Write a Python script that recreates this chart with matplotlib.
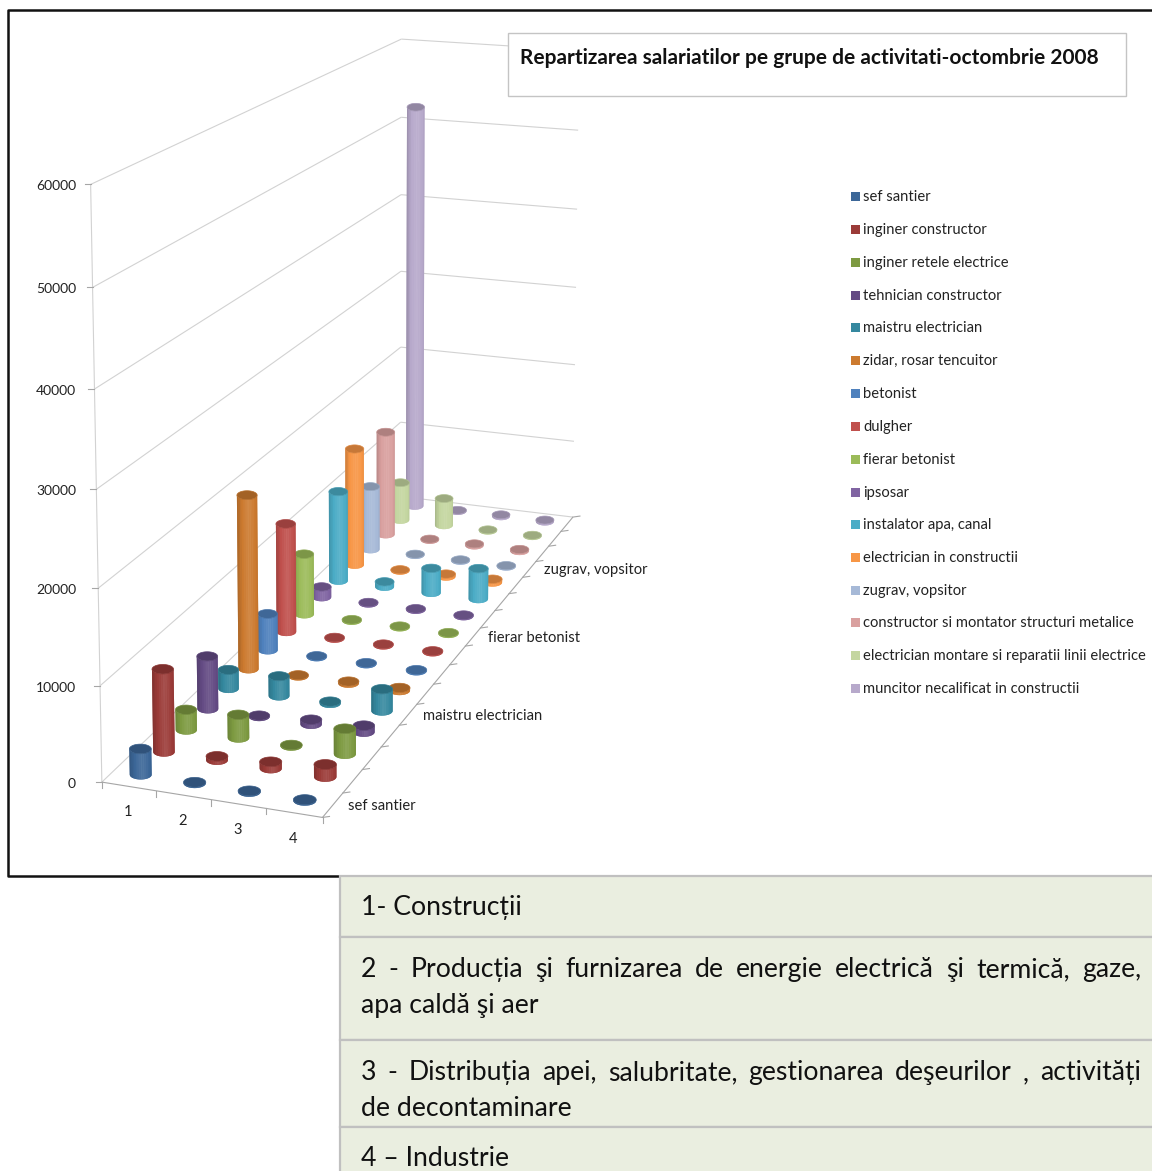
import numpy as np
import matplotlib
matplotlib.use('Agg')
import matplotlib.pyplot as plt
from matplotlib.colors import to_rgb

plt.rcParams['font.family'] = ['Lato', 'DejaVu Sans']

series_names = ['sef santier', 'inginer constructor', 'inginer retele electrice',
                'tehnician constructor', 'maistru electrician', 'zidar, rosar tencuitor',
                'betonist', 'dulgher', 'fierar betonist', 'ipsosar', 'instalator apa, canal',
                'electrician in constructii', 'zugrav, vopsitor',
                'constructor si montator structuri metalice',
                'electrician montare si reparatii linii electrice',
                'muncitor necalificat in constructii']
series_colors = ['#3C6798', '#9B3B38', '#7D9A41', '#644B84', '#35889F', '#CC7A2F',
                 '#4F81BD', '#C0504D', '#9BBB59', '#8064A2', '#4BACC6', '#F79646',
                 '#A6B9D7', '#D9A09F', '#C4D6A0', '#B7A9CB']
categories = ['1', '2', '3', '4']
values_cat1 = [2700, 8800, 2200, 5800, 2100, 19700, 4200, 12700, 7200, 1250, 11000, 14500,
               8000, 13200, 4900, 52000]
values_cat2 = [100, 400, 2500, 100, 2200, 100, 100, 100, 100, 100, 600, 100,
               100, 100, 3500, 100]
values_cat3 = [100, 700, 100, 500, 200, 200, 100, 100, 100, 100, 3000, 300,
               100, 200, 100, 200]
values_cat4 = [100, 1300, 2700, 700, 2400, 300, 100, 100, 100, 100, 3700, 400,
               100, 200, 100, 200]
values = [values_cat1, values_cat2, values_cat3, values_cat4]
value_ticks = [0, 10000, 20000, 30000, 40000, 50000, 60000]
series_ticks = [0, 4, 8, 12]

title = 'Repartizarea salariatilor pe grupe de activitati-octombrie 2008'
table_rows = [
    [('1- Construcții', False)],
    [('2 - Producția şi furnizarea de energie electrică şi termică, gaze,', True), ('apa caldă şi aer', False)],
    [('3 - Distribuția apei, salubritate, gestionarea deşeurilor , activități', True), ('de decontaminare', False)],
    [('4 – Industrie', False)],
]

# camera: (category, value/10000, series) -> pixel, fitted on the corners of the box
world_pts = [(0, 0, 0), (4, 0, 0), (4, 0, 16), (0, 0, 16), (0, 6, 0), (0, 6, 16), (4, 6, 16)]
pixel_pts = [(101, 781), (324, 818), (573, 517), (400, 497), (90, 185), (403, 39), (578, 50)]

rows, rhs = [], []
for (X, Y, Z), (u, v) in zip(world_pts, pixel_pts):
    rows.append([X, Y, Z, 1, 0, 0, 0, 0, -u * X, -u * Y, -u * Z])
    rows.append([0, 0, 0, 0, X, Y, Z, 1, -v * X, -v * Y, -v * Z])
    rhs += [u, v]
cam = np.linalg.lstsq(np.array(rows, float), np.array(rhs, float), rcond=None)[0]
cam = np.append(cam, 1).reshape(3, 4)


def proj(x, val, z):
    x, val, z = np.broadcast_arrays(x, val / 10000, z)
    p = cam @ np.stack([x, val, z, np.ones_like(x, dtype=float)])
    return p[0] / p[2], p[1] / p[2]


fig = plt.figure(figsize=(11.52, 11.71), dpi=100)
ax = fig.add_axes([0, 0, 1, 1])
ax.set_xlim(0, 1152)
ax.set_ylim(1171, 0)
ax.axis('off')

GRID = '#d2d2d2'
AXIS = '#a6a6a6'
TXT = '#222222'


def seg(a, b, color=GRID, lw=0.8, z=2):
    xa, ya = proj(*a)
    xb, yb = proj(*b)
    ax.plot([xa, xb], [ya, yb], color=color, lw=lw, zorder=z, solid_capstyle='butt')


# walls and floor
for v in value_ticks:
    seg((0, v, 0), (0, v, 16))
    seg((0, v, 16), (4, v, 16))
seg((0, 0, 0), (0, 60000, 0))
seg((0, 0, 0), (4, 0, 0), AXIS)
seg((4, 0, 0), (4, 0, 16), AXIS)

# value axis
for v in value_ticks:
    xa, ya = proj(0, v, 0)
    ax.plot([xa - 6, xa], [ya, ya], color=AXIS, lw=0.8, zorder=2)
    ax.text(76, ya + 2, str(v), ha='right', va='center', fontsize=10, color=TXT)

# category axis
for i in range(5):
    xa, ya = proj(i, 0, 0)
    ax.plot([xa, xa], [ya, ya + 6], color=AXIS, lw=0.8, zorder=2)
for i, c in enumerate(categories):
    xa, ya = proj(i + 0.5, 0, 0)
    ax.text(xa - 1, ya + 26, c, ha='center', va='center', fontsize=10.5, color=TXT)

# series axis
for j in range(17):
    xa, ya = proj(4, 0, j)
    ax.plot([xa, xa + 7], [ya, ya - 1], color=AXIS, lw=0.8, zorder=2)
for j in series_ticks:
    xa, ya = proj(4, 0, j + 0.5)
    ax.text(xa + 15, ya + 1, series_names[j], ha='left', va='center', fontsize=10.6, color=TXT)


def shade(col, f):
    c = np.array(to_rgb(col))
    if f <= 1:
        return tuple(c * f)
    return tuple(c + (1 - c) * (f - 1))


RADIUS = 0.205     # in category units
FLATTEN = 0.44     # ellipse height / width on screen
arc = np.linspace(np.pi, 0, 17)
ring = np.linspace(0, 2 * np.pi, 49)


def cylinder(cat, ser, val, col, z):
    x0, _ = proj(cat + 0.5 - RADIUS, 0, ser + 0.5)
    x1, _ = proj(cat + 0.5 + RADIUS, 0, ser + 0.5)
    a = (x1 - x0) / 2
    b = a * FLATTEN
    bu, bv = proj(cat + 0.5, 0, ser + 0.5)
    tu, tv = proj(cat + 0.5, val, ser + 0.5)
    # silhouette first, so that the seams between the strips do not show
    ax.fill(np.r_[bu + a * np.cos(arc), tu + a * np.cos(arc[::-1])],
            np.r_[bv + b * np.sin(arc), tv + b * np.sin(arc[::-1])],
            facecolor=shade(col, 1.0), edgecolor='none', zorder=z, snap=False)
    for th0, th1 in zip(arc[:-1], arc[1:]):
        t = (1 + np.cos((th0 + th1) / 2 + np.pi)) / 2
        d = abs(t - 0.42) / 0.58
        fc = shade(col, 1.12 - 0.2 * d - 0.14 * d ** 4)
        c0, c1 = np.cos([th0, th1])
        s0, s1 = np.sin([th0, th1])
        ax.fill([bu + a * c0, bu + a * c1, tu + a * c1, tu + a * c0],
                [bv + b * s0, bv + b * s1, tv + b * s1, tv + b * s0],
                facecolor=fc, edgecolor='none', zorder=z, snap=False)
    ax.fill(tu + a * np.cos(ring), tv + b * np.sin(ring), facecolor=shade(col, 0.8),
            edgecolor=shade(col, 0.9), lw=0.5, zorder=z + 0.5, snap=False)


z = 5
for j in range(len(series_names) - 1, -1, -1):
    for i in range(len(categories)):
        cylinder(i, j, values[i][j], series_colors[j], z)
        z += 1

# frame round the chart
ax.plot([1152, 8, 8, 340], [9.5, 9.5, 876, 876], color='#111111', lw=1.8, zorder=z)

# title box
ax.fill([508, 1126, 1126, 508], [33, 33, 96, 96], facecolor='white', edgecolor='#c4c4c4', lw=1, zorder=z)
ax.text(520, 57.5, title, ha='left', va='center', fontsize=15, fontweight='bold', color='#111111',
        zorder=z + 1)

# legend
legend_y = [196, 229, 262, 295, 327, 360, 393, 426, 459, 492, 524, 557, 590, 622, 655, 688]
for name, col, y in zip(series_names, series_colors, legend_y):
    ax.fill([851, 860, 860, 851], [y - 4.5, y - 4.5, y + 4.5, y + 4.5], color=col, lw=0, zorder=z)
    ax.text(863, y + 1, name, ha='left', va='center', fontsize=10.6, color=TXT, zorder=z)

# table underneath
row_edges = [876, 937, 1040, 1127, 1175]
line_y = [[905], [967, 1003], [1070, 1106], [1156]]
FILL = '#EAEEE0'
EDGE = '#c0c0c0'
renderer = fig.canvas.get_renderer()
for k, lines in enumerate(table_rows):
    ax.fill([340, 1156, 1156, 340], [row_edges[k], row_edges[k], row_edges[k + 1], row_edges[k + 1]],
            facecolor=FILL, edgecolor=EDGE, lw=1.6, zorder=z)
    for (line, justify), y in zip(lines, line_y[k]):
        if not justify:
            ax.text(361, y, line, ha='left', va='center_baseline', fontsize=19.2, color='#111111', zorder=z + 1)
            continue
        words = line.split()
        arts = [ax.text(361, y, w, ha='left', va='center_baseline', fontsize=19.2, color='#111111', zorder=z + 1)
                for w in words]
        widths = [a.get_window_extent(renderer).width for a in arts]
        gap = (1141 - 361 - sum(widths)) / (len(words) - 1)
        x = 361
        for a, w in zip(arts, widths):
            a.set_x(x)
            x += w + gap

fig.savefig('out.png', dpi=100)
